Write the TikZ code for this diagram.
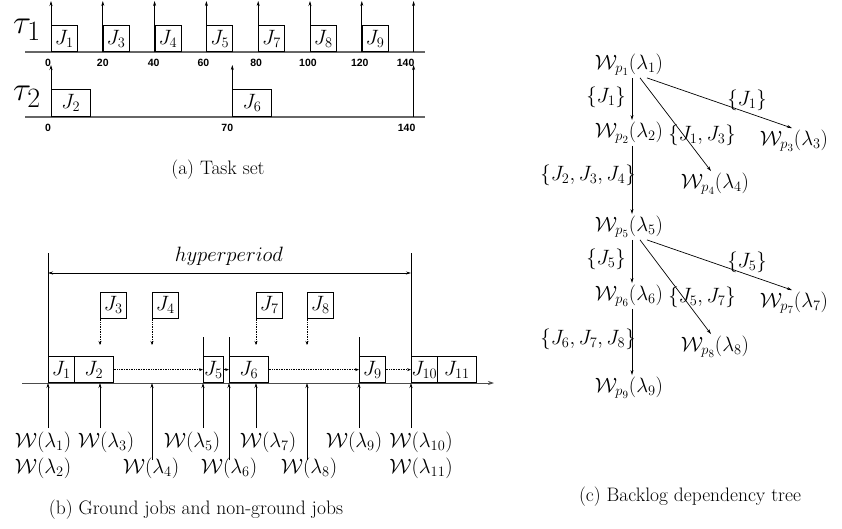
\documentclass[tikz,border=0pt]{standalone}
\usepackage{graphicx}
\usepackage{fontspec}
\newfontfamily\tickfont{Liberation Sans}
\usetikzlibrary{arrows.meta,calc}
\begin{document}
\begin{tikzpicture}[x=1pt,y=-1pt,
  axisa/.style={line width=1.6pt, draw=black!60},
  axisb/.style={line width=0.8pt, draw=black!70},
  rel/.style={-{Stealth[length=5pt,width=3pt]}, line width=0.7pt},
  dotarr/.style={densely dotted, -{Stealth[length=4pt,width=3pt]}, line width=0.7pt},
  jbox/.style={draw, line width=0.7pt, inner sep=0pt, font=\fontsize{20}{22}\selectfont},
  tickl/.style={font=\tickfont\bfseries\fontsize{10.5}{12}\selectfont},
  lab/.style={inner sep=0pt, font=\fontsize{21}{24}\selectfont},
  elab/.style={inner sep=0pt, font=\fontsize{21}{24}\selectfont},
  captext/.style={font=\fontsize{19.5}{22}\selectfont},
  taul/.style={inner sep=0pt, font=\fontsize{24.88}{28}\selectfont}]
\useasboundingbox (0,0) rectangle (842,529);

% ---------------- (a) Task set ----------------
\node[taul] (tau1) at (27,30) {\scalebox{1.35}{$\tau_1$}};
\node[taul] (tau2) at (27,97) {\scalebox{1.35}{$\tau_2$}};
\draw[axisa] (25,52) -- (425,52);
\draw[axisa] (25,117) -- (425,117);
\foreach \t/\j in {0/1,20/3,40/4,60/5,80/7,100/8,120/9}
  \node[jbox, minimum width=25.9pt, minimum height=26pt, anchor=south west] (a\j) at ({51+2.59*\t},52) {$J_{\j}$};
\foreach \t/\j in {0/2,70/6}
  \node[jbox, minimum width=38.9pt, minimum height=27pt, anchor=south west] (a\j) at ({51+2.59*\t},117) {$J_{\j}$};
\foreach \t/\dx in {0/-3,20/0,40/-1,60/-3,80/-2,100/-2,120/-2,140/-8} {
  \coordinate (r1\t) at ({51+2.59*\t},52);
  \coordinate (h1\t) at ({51+2.59*\t},1);
  \draw[rel] (r1\t) -- (h1\t);
  \node[tickl] (t1\t) at ({51+2.59*\t+\dx},63) {\t};
}
\foreach \t/\dx in {0/-3,70/-5,140/-7} {
  \coordinate (r2\t) at ({51+2.59*\t},117);
  \coordinate (h2\t) at ({51+2.59*\t},65);
  \draw[rel] (r2\t) -- (h2\t);
  \node[tickl] (t2\t) at ({51+2.59*\t+\dx},128) {\t};
}
\node[captext] (capa) at (218,170) {(a) Task set};

% ---------------- (b) Ground jobs ----------------
\draw[axisb, -{Stealth[length=6pt,width=4pt]}] (22,383) -- (494,383);
% hyperperiod
\draw[line width=0.7pt] (48,253) -- (48,383);
\draw[line width=0.7pt] (411,253) -- (411,383);
\coordinate (hpL) at (48,273);
\coordinate (hpR) at (411,273);
\draw[line width=0.7pt, {Stealth[length=5pt,width=3pt]}-{Stealth[length=5pt,width=3pt]}] (hpL) -- (hpR);
\node[lab] (hp) at (229,256) {$hyperperiod$};
% vertical marker lines
\foreach \x in {203,229,359} \draw[line width=0.7pt] (\x,337) -- (\x,383);
% boxes on axis
\node[jbox, minimum width=26pt, minimum height=26pt, anchor=south west] (b1) at (48,383) {$J_1$};
\node[jbox, minimum width=39pt, minimum height=26pt, anchor=south west] (b2) at (74,383) {$J_2$};
\node[jbox, minimum width=20pt, minimum height=26pt, anchor=south west] (b5) at (203,383) {$J_5$};
\node[jbox, minimum width=39pt, minimum height=26pt, anchor=south west] (b6) at (229,383) {$J_6$};
\node[jbox, minimum width=26pt, minimum height=26pt, anchor=south west] (b9) at (359,383) {$J_9$};
\node[jbox, minimum width=26pt, minimum height=26pt, anchor=south west] (b10) at (411,383) {$J_{10}$};
\node[jbox, minimum width=39pt, minimum height=26pt, anchor=south west] (b11) at (437,383) {$J_{11}$};
% dotted links
\draw[dotarr] (b2.east) -- (b5.west);
\draw[dotarr] (b5.east) -- (b6.west);
\draw[dotarr] (b6.east) -- (b9.west);
\draw[dotarr] (b9.east) -- (b10.west);
% floating jobs
\foreach \x/\j in {100/3,152/4,256/7,307/8} {
  \node[jbox, minimum width=26pt, minimum height=26pt, anchor=north west] (f\j) at (\x,292) {$J_{\j}$};
  \coordinate (fe\j) at (\x,345);
  \draw[dotarr] (f\j.south west) -- (fe\j);
}
% arrows from below
\foreach \x/\y in {48/428,100/428,152/460,203/428,229/460,256/428,307/460,359/428,411/428} {
  \coordinate (lo\x) at (\x,\y);
  \coordinate (ax\x) at (\x,383);
  \draw[rel] (lo\x) -- (ax\x);
}
% labels
\node[lab] (w1) at (43,442) {$\mathcal{W}(\lambda_1)$};
\node[lab] (w3) at (106,442) {$\mathcal{W}(\lambda_3)$};
\node[lab] (w5) at (192,442) {$\mathcal{W}(\lambda_5)$};
\node[lab] (w7) at (268,442) {$\mathcal{W}(\lambda_7)$};
\node[lab] (w9) at (354,442) {$\mathcal{W}(\lambda_9)$};
\node[lab] (w10) at (421,442) {$\mathcal{W}(\lambda_{10})$};
\node[lab] (w2) at (43,468) {$\mathcal{W}(\lambda_2)$};
\node[lab] (w4) at (151,468) {$\mathcal{W}(\lambda_4)$};
\node[lab] (w6) at (229,468) {$\mathcal{W}(\lambda_6)$};
\node[lab] (w8) at (309,468) {$\mathcal{W}(\lambda_8)$};
\node[lab] (w11) at (421,468) {$\mathcal{W}(\lambda_{11})$};
\node[captext] (capb) at (196,510) {(b) Ground jobs and non-ground jobs};

% ---------------- (c) Backlog dependency tree ----------------
\node[lab] (p1) at (629,65) {$\mathcal{W}_{p_1}(\lambda_1)$};
\node[lab] (p2) at (629,133) {$\mathcal{W}_{p_2}(\lambda_2)$};
\node[lab] (p3) at (794,141) {$\mathcal{W}_{p_3}(\lambda_3)$};
\node[lab] (p4) at (715,184) {$\mathcal{W}_{p_4}(\lambda_4)$};
\node[lab] (p5) at (629,227) {$\mathcal{W}_{p_5}(\lambda_5)$};
\node[lab] (p6) at (629,296) {$\mathcal{W}_{p_6}(\lambda_6)$};
\node[lab] (p7) at (794,303) {$\mathcal{W}_{p_7}(\lambda_7)$};
\node[lab] (p8) at (715,347) {$\mathcal{W}_{p_8}(\lambda_8)$};
\node[lab] (p9) at (629,388) {$\mathcal{W}_{p_9}(\lambda_9)$};

\draw[rel] ([xshift=3pt,yshift=-2pt]p1.south) -- ([xshift=3pt,yshift=2pt]p2.north);
\draw[rel] ([xshift=11pt,yshift=-2pt]p1.south) -- ([xshift=-4pt,yshift=2pt]p4.north);
\draw[rel] ([xshift=18pt,yshift=-2pt]p1.south) -- ([xshift=-2pt,yshift=2pt]p3.north);
\draw[rel] ([xshift=3pt,yshift=-2pt]p2.south) -- ([xshift=3pt,yshift=2pt]p5.north);
\draw[rel] ([xshift=3pt,yshift=-2pt]p5.south) -- ([xshift=3pt,yshift=2pt]p6.north);
\draw[rel] ([xshift=11pt,yshift=-2pt]p5.south) -- ([xshift=-4pt,yshift=2pt]p8.north);
\draw[rel] ([xshift=18pt,yshift=-2pt]p5.south) -- ([xshift=-2pt,yshift=2pt]p7.north);
\draw[rel] ([xshift=3pt,yshift=-2pt]p6.south) -- ([xshift=3pt,yshift=2pt]p9.north);

\node[elab] (e12) at (606,97) {$\{J_1\}$};
\node[elab] (e13) at (747,100) {$\{J_1\}$};
\node[elab] (e14) at (702,135) {$\{J_1,J_3\}$};
\node[elab] (e25) at (588,175) {$\{J_2,J_3,J_4\}$};
\node[elab] (e56) at (606,259) {$\{J_5\}$};
\node[elab] (e57) at (747,262) {$\{J_5\}$};
\node[elab] (e58) at (702,297) {$\{J_5,J_7\}$};
\node[elab] (e69) at (588,339) {$\{J_6,J_7,J_8\}$};
\node[captext] (capc) at (690,497) {(c) Backlog dependency tree};
\end{tikzpicture}
\end{document}
